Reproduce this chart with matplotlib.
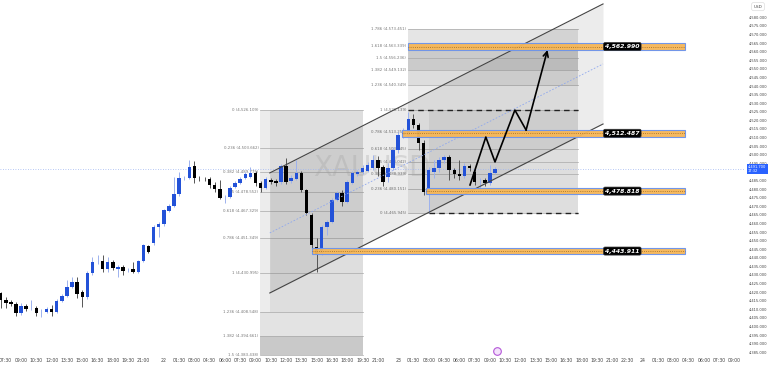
import numpy as np
import matplotlib.pyplot as plt
from matplotlib.patches import Rectangle
from matplotlib.transforms import blended_transform_factory

# XAUUSD 30m candles
opens = [4419.5, 4415.4, 4414.2, 4413.1, 4407.8, 4411.9, 4410.6, 4410.8, 4408.8, 4408.4,
         4410.2, 4408.4, 4414.8, 4417.7, 4423.0, 4425.9, 4420.1, 4417.2, 4431.1, 4437.3,
         4438.1, 4433.5, 4437.5, 4433.5, 4434.6, 4432.7, 4433.5, 4431.7, 4438.1, 4446.9,
         4448.6, 4457.9, 4459.7, 4467.2, 4470.1, 4477.1, 4486.3, 4486.5, 4493.4, 4486.7,
         4486.1, 4485.9, 4482.4, 4480.0, 4475.2, 4475.4, 4481.2, 4483.5, 4486.5, 4487.0,
         4489.4, 4483.5, 4480.6, 4485.3, 4484.7, 4484.1, 4493.4, 4484.7, 4485.9, 4489.4,
         4479.5, 4464.9, 4446.3, 4442.8, 4457.9, 4460.8, 4473.6, 4477.7, 4472.5, 4483.5,
         4488.8, 4490.0, 4490.5, 4492.3, 4496.9, 4492.9, 4487.0, 4492.3, 4502.8, 4511.5,
         4511.5, 4520.8, 4517.3, 4506.8, 4478.3, 4490.0, 4492.3, 4496.9, 4498.7, 4491.1,
         4488.8, 4487.6, 4493.4, 4490.0, 4483.9, 4485.3, 4483.5, 4489.4]
highs = [4420.1, 4417.2, 4415.4, 4414.2, 4413.7, 4413.1, 4415.4, 4411.9, 4410.2, 4411.3,
         4412.5, 4416.0, 4418.9, 4427.1, 4428.8, 4428.8, 4421.2, 4432.3, 4440.4, 4441.6,
         4441.6, 4440.4, 4438.7, 4435.8, 4435.8, 4434.0, 4437.5, 4438.7, 4448.0, 4447.4,
         4459.1, 4460.8, 4468.4, 4471.3, 4487.0, 4490.0, 4487.6, 4496.9, 4496.4, 4487.6,
         4487.0, 4487.0, 4484.1, 4485.3, 4476.5, 4481.8, 4484.7, 4487.0, 4490.0, 4492.9,
         4490.5, 4484.7, 4487.0, 4486.5, 4485.9, 4494.6, 4498.1, 4488.2, 4496.9, 4490.5,
         4480.0, 4466.1, 4451.5, 4459.1, 4462.0, 4474.8, 4478.9, 4479.5, 4485.3, 4490.5,
         4491.1, 4494.0, 4495.8, 4499.8, 4499.3, 4494.0, 4495.2, 4504.5, 4513.2, 4515.6,
         4524.9, 4523.7, 4518.5, 4508.6, 4492.9, 4496.9, 4498.7, 4499.8, 4499.8, 4492.3,
         4496.9, 4495.2, 4494.6, 4492.3, 4486.5, 4486.5, 4494.0, 4492.9]
lows = [4410.8, 4410.8, 4411.9, 4406.1, 4406.7, 4409.0, 4409.6, 4406.1, 4405.5, 4407.8,
        4406.1, 4407.8, 4414.2, 4417.2, 4422.4, 4416.6, 4411.3, 4416.0, 4430.0, 4436.4,
        4431.7, 4431.7, 4432.9, 4428.8, 4430.0, 4431.7, 4431.1, 4431.1, 4437.5, 4442.8,
        4447.4, 4452.1, 4458.5, 4466.7, 4469.6, 4476.0, 4485.3, 4485.9, 4483.5, 4484.7,
        4484.7, 4480.6, 4478.3, 4474.2, 4471.9, 4474.8, 4480.6, 4483.0, 4485.9, 4486.5,
        4481.8, 4478.3, 4480.0, 4483.0, 4481.8, 4483.0, 4483.0, 4483.5, 4485.3, 4478.3,
        4464.9, 4444.5, 4431.7, 4441.6, 4453.3, 4460.2, 4473.1, 4470.1, 4471.9, 4483.0,
        4487.6, 4488.8, 4490.0, 4491.1, 4487.6, 4481.8, 4484.1, 4491.1, 4501.0, 4509.7,
        4510.3, 4515.6, 4502.8, 4476.5, 4466.1, 4486.5, 4490.0, 4495.2, 4485.3, 4486.5,
        4485.3, 4486.5, 4490.5, 4482.4, 4478.3, 4481.8, 4482.4, 4488.8]
closes = [4415.4, 4413.7, 4413.1, 4407.8, 4411.9, 4410.2, 4411.0, 4407.8, 4409.2, 4410.2,
          4408.4, 4414.8, 4417.7, 4423.0, 4425.9, 4418.9, 4417.2, 4431.1, 4437.5, 4437.7,
          4433.5, 4437.5, 4434.0, 4434.6, 4432.3, 4433.1, 4431.7, 4438.1, 4447.4, 4443.4,
          4457.9, 4459.7, 4467.8, 4470.1, 4477.1, 4486.5, 4486.7, 4492.9, 4486.5, 4486.3,
          4485.7, 4482.4, 4480.0, 4474.8, 4475.6, 4480.6, 4483.5, 4485.9, 4488.8, 4489.4,
          4483.5, 4480.6, 4485.9, 4484.1, 4483.5, 4493.4, 4484.1, 4486.5, 4489.4, 4479.5,
          4466.1, 4447.4, 4442.2, 4457.9, 4460.8, 4473.6, 4477.7, 4472.5, 4484.1, 4489.4,
          4490.0, 4492.3, 4494.0, 4496.9, 4492.3, 4484.1, 4492.3, 4502.8, 4511.5, 4513.2,
          4520.8, 4517.3, 4506.8, 4478.3, 4491.1, 4492.3, 4496.9, 4498.7, 4491.1, 4488.8,
          4487.6, 4493.4, 4492.3, 4484.1, 4484.3, 4483.5, 4489.4, 4491.7]

tick_pos = [1, 4, 7, 10, 13, 16, 19, 22, 25, 28, 32, 35, 38, 41, 44, 47, 50, 53, 56, 59,
            62, 65, 68, 71, 74, 78, 81, 84, 87, 90, 93, 96, 99, 102, 105, 108, 111, 114,
            117, 120, 123, 126, 129, 132, 135, 138, 141, 144]
tick_txt = ['07:30', '09:00', '10:30', '12:00', '13:30', '15:00', '16:30', '18:00', '19:30',
            '21:00', '22', '01:30', '03:00', '04:30', '06:00', '07:30', '09:00', '10:30',
            '12:00', '13:30', '15:00', '16:30', '18:00', '19:30', '21:00', '23', '01:30',
            '03:00', '04:30', '06:00', '07:30', '09:00', '10:30', '12:00', '13:30', '15:00',
            '16:30', '18:00', '19:30', '21:00', '22:30', '24', '01:30', '03:00', '04:30',
            '06:00', '07:30', '09:00']

# fib retracements
fib1_lvls = ['0', '0.236', '0.382', '0.5', '0.618', '0.786', '1', '1.236', '1.382', '1.5']
fib1_px = [4526.109, 4503.662, 4489.775, 4478.552, 4467.329, 4451.349, 4430.995,
           4408.548, 4394.661, 4383.438]
fib1_t = (50.9, 71.1)
fib2_lvls = ['0', '0.236', '0.382', '0.5', '0.618', '0.786', '1', '1.236', '1.382', '1.5',
             '1.618', '1.786']
fib2_px = [4465.945, 4480.151, 4488.939, 4496.042, 4503.145, 4513.258, 4526.139,
           4540.349, 4549.132, 4556.236, 4563.339, 4573.451]
fib2_t = (79.9, 113.3)

# parallel channel
chan_t = [52.8, 118.2]
chan_up = [4489.4, 4587.8]
chan_lo = [4419.5, 4517.9]

# supply/demand zones
zone_px = [4562.990, 4512.487, 4478.818, 4443.911]
zone_t0 = [79.9, 78.7, 83.5, 61.1]
zone_t1 = 134.3

# projected path
path_t = [92.1, 95.2, 97.0, 100.9, 103.1, 107.3]
path_px = [4482.4, 4510.3, 4495.8, 4526.0, 4514.4, 4561.0]

last_px = closes[-1]

fig = plt.figure(figsize=(7.68, 3.66), dpi=100)
ax = fig.add_axes([0, 10 / 366, 745 / 768, 356 / 366])
ax.set_xlim(-0.14, 146.06)
ax.set_ylim(4382.8, 4590.1)
for s in ax.spines.values():
    s.set_visible(False)


def box(t0, t1, p0, p1, color, z=1):
    ax.add_patch(Rectangle((t0, min(p0, p1)), t1 - t0, abs(p1 - p0), fc=color, ec='none', zorder=z))


# left fib
box(fib1_t[0], fib1_t[1], fib1_px[0], fib1_px[-1], '#ececec')
box(52.8, fib1_t[1], fib1_px[0], fib1_px[7], '#dedede')
box(fib1_t[0], fib1_t[1], fib1_px[7], fib1_px[8], '#e3e3e3')
box(fib1_t[0], fib1_t[1], fib1_px[8], fib1_px[9], '#c9c9c9')
for lv, p in zip(fib1_lvls, fib1_px):
    ax.plot(fib1_t, [p, p], color='#a8a8a8', lw=0.5, zorder=2)
    ax.text(fib1_t[0] - 0.3, p, f'{lv} ({p:,.3f})', fontsize=2.8, color='#777777',
            ha='right', va='center', zorder=2)

# right fib
box(fib2_t[0], fib2_t[1], fib2_px[0], fib2_px[-1], '#ececec')
box(84.0, fib2_t[1], fib2_px[0], fib2_px[6], '#dedede')
box(fib2_t[0], fib2_t[1], fib2_px[10], fib2_px[11], '#e5e5e5')
box(fib2_t[0], fib2_t[1], fib2_px[8], fib2_px[10], '#cbcbcb')
box(fib2_t[0], fib2_t[1], fib2_px[7], fib2_px[8], '#dddddd')
for lv, p in zip(fib2_lvls, fib2_px):
    ax.plot(fib2_t, [p, p], color='#a8a8a8', lw=0.5, zorder=2)
    ax.text(fib2_t[0] - 0.3, p, f'{lv} ({p:,.3f})', fontsize=2.8, color='#777777',
            ha='right', va='center', zorder=2)
ax.plot([fib2_t[0], fib2_t[1]], [fib2_px[6]] * 2, color='#222222', lw=1.0,
        ls=(0, (4, 3)), zorder=6)
ax.plot([84.0, fib2_t[1]], [fib2_px[0]] * 2, color='#222222', lw=1.0,
        ls=(0, (4, 3)), zorder=6)

# channel
ax.fill_between(chan_t, chan_lo, chan_up, color='black', alpha=0.075, lw=0, zorder=2.5)
ax.plot(chan_t, chan_up, color='#444444', lw=0.8, zorder=6)
ax.plot(chan_t, chan_lo, color='#444444', lw=0.8, zorder=6)
ax.plot(chan_t, [(a + b) / 2 for a, b in zip(chan_up, chan_lo)], color='#8fa8ee',
        lw=0.6, ls=(0, (2, 2)), zorder=6)

# watermark
ax.text(72.9, 4492.3, 'XAUUSD', fontsize=20, color='#a0a0a0', alpha=0.3,
        ha='center', va='center', zorder=2.6)

# last price line
ax.axhline(last_px, color='#9fb5f2', lw=0.6, ls=(0, (1, 2)), zorder=3)

# candles
o = np.array(opens)
h = np.array(highs)
l = np.array(lows)
c = np.array(closes)
x = np.arange(len(o))
up = c >= o
ax.vlines(x[up], l[up], h[up], color='#9db2ee', lw=0.7, zorder=4)
ax.vlines(x[~up], l[~up], h[~up], color='#555555', lw=0.7, zorder=4)
body_lo = np.minimum(o, c)
body_h = np.maximum(np.abs(c - o), 0.4)
ax.bar(x[up], body_h[up], bottom=body_lo[up], width=0.68, color='#2352d8', zorder=5)
ax.bar(x[~up], body_h[~up], bottom=body_lo[~up], width=0.68, color='#000000', zorder=5)

# zones
for p, t0 in zip(zone_px, zone_t0):
    ax.add_patch(Rectangle((t0, p - 1.9), zone_t1 - t0, 3.8, fc='#f6b656', ec='#6b93ec',
                           lw=0.8, alpha=0.95, zorder=7))
    ax.plot([t0, zone_t1], [p, p], color='#9a6a25', lw=0.6, ls=(0, (1, 1.6)), zorder=7.5)
    ax.text(118.6, p, f'{p:,.3f}', color='white', fontsize=4.4, fontweight='bold',
            fontstyle='italic', ha='left', va='center', zorder=8,
            bbox=dict(boxstyle='round,pad=0.25', fc='black', ec='#333333', lw=0.5))

# projected path
ax.plot(path_t[:-1], path_px[:-1], color='black', lw=1.2, zorder=9)
ax.annotate('', xy=(path_t[-1], path_px[-1]), xytext=(path_t[-2], path_px[-2]),
            arrowprops=dict(arrowstyle='->', color='black', lw=1.2, mutation_scale=9,
                            shrinkA=0, shrinkB=0), zorder=9)

# event marker
ax.plot(97.4, 4385.6, 'o', ms=5.5, mfc='#f4e2fb', mec='#b457d8', mew=0.8, zorder=9,
        clip_on=False)

# axes
ax.set_xticks(tick_pos)
ax.set_xticklabels(tick_txt)
ax.tick_params(axis='x', length=0, labelsize=3.3, colors='#444444', pad=1.5)
yt = [v for v in range(4385, 4581, 5) if abs(v - last_px) > 3]
ax.yaxis.tick_right()
ax.set_yticks(yt)
ax.set_yticklabels([f'{v:,.3f}' for v in yt])
ax.tick_params(axis='y', length=0, labelsize=2.6, colors='#444444', pad=2.5)

tr = blended_transform_factory(ax.transAxes, ax.transData)
ax.text(1.004, last_px, f'{last_px:,.3f}\n17:32', transform=tr, fontsize=2.6,
        color='white', ha='left', va='center', linespacing=1.1, zorder=10,
        bbox=dict(boxstyle='square,pad=0.35', fc='#2962ff', ec='none'))
fig.text(0.987, 0.982, 'USD', fontsize=3.0, color='#444444', ha='center', va='center',
         bbox=dict(boxstyle='round,pad=0.5', fc='white', ec='#dddddd', lw=0.5))

fig.savefig('out.png', dpi=100)
